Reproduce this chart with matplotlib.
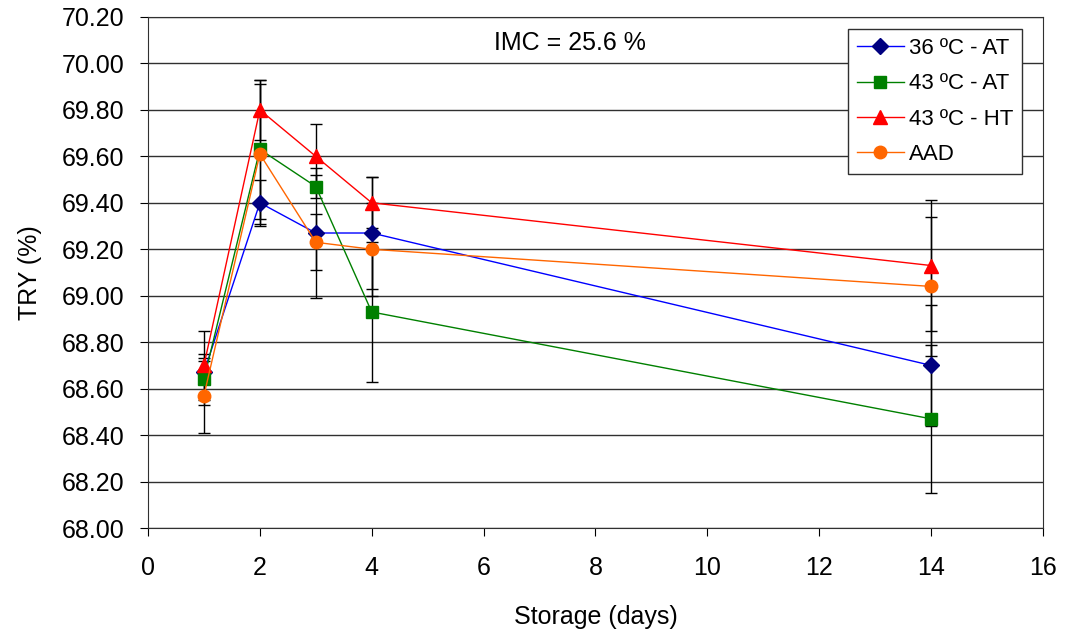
import matplotlib
matplotlib.use("Agg")
import matplotlib.pyplot as plt

plt.rcParams['font.family'] = ['Liberation Sans', 'DejaVu Sans']

days = [1, 2, 3, 4, 14]

try_36_at = [68.67, 69.40, 69.27, 69.27, 68.70]
err_36_at = [0.05, 0.10, 0.28, 0.24, 0.26]

try_43_at = [68.64, 69.63, 69.47, 68.93, 68.47]
err_43_at = [0.11, 0.30, 0.05, 0.30, 0.32]

try_43_ht = [68.70, 69.80, 69.60, 69.40, 69.13]
err_43_ht = [0.15, 0.13, 0.14, 0.11, 0.28]

try_aad = [68.57, 69.61, 69.23, 69.20, 69.04]
err_aad = [0.16, 0.30, 0.12, 0.20, 0.30]

series = [
    ('36 ºC - AT', try_36_at, err_36_at, '#0000FF', '#000080', 'D', 8),
    ('43 ºC - AT', try_43_at, err_43_at, '#008000', '#008000', 's', 9),
    ('43 ºC - HT', try_43_ht, err_43_ht, '#FF0000', '#FF0000', '^', 10),
    ('AAD', try_aad, err_aad, '#FF6600', '#FF6600', 'o', 9),
]

fig = plt.figure(figsize=(10.67, 6.36), dpi=100)
ax = fig.add_axes([0.1387, 0.1698, 0.8388, 0.8035])

for label, vals, errs, lc, mc, mk, ms in series:
    ax.errorbar(days, vals, yerr=errs, fmt='none', ecolor='black',
                elinewidth=1, capsize=4.5, capthick=1, zorder=2)
    ax.plot(days, vals, color=lc, lw=1, marker=mk, markersize=ms,
            markerfacecolor=mc, markeredgecolor=mc, label=label, zorder=3)

ax.set_xlim(0, 16)
ax.set_ylim(68.0, 70.2)
ax.set_xticks(range(0, 17, 2))
ax.set_yticks([68.0 + 0.2 * i for i in range(12)])
ax.set_yticklabels([f'{68.0 + 0.2 * i:.2f}' for i in range(12)])
ax.tick_params(labelsize=18, direction='out', length=6)
ax.tick_params(axis='x', pad=14)
ax.tick_params(axis='y', pad=11)
ax.yaxis.grid(True, color='#303030', lw=1)
ax.set_axisbelow(True)
for s in ax.spines.values():
    s.set_color('#303030')

ax.set_xlabel('Storage (days)', fontsize=18, labelpad=18)
ax.set_ylabel('TRY (%)', fontsize=18, labelpad=14)

ax.text(7.54, 70.088, 'IMC = 25.6 %', fontsize=18, ha='center', va='center')

leg = ax.legend(loc='upper left', bbox_to_anchor=(0.7948, 0.9544),
                bbox_transform=fig.transFigure, borderaxespad=0, fontsize=16,
                frameon=True, fancybox=False, edgecolor='#303030',
                framealpha=1, handlelength=2.1, borderpad=0.4,
                labelspacing=0.65, handletextpad=0.25)
leg.get_frame().set_linewidth(1)

fig.savefig('out.png', dpi=100)
